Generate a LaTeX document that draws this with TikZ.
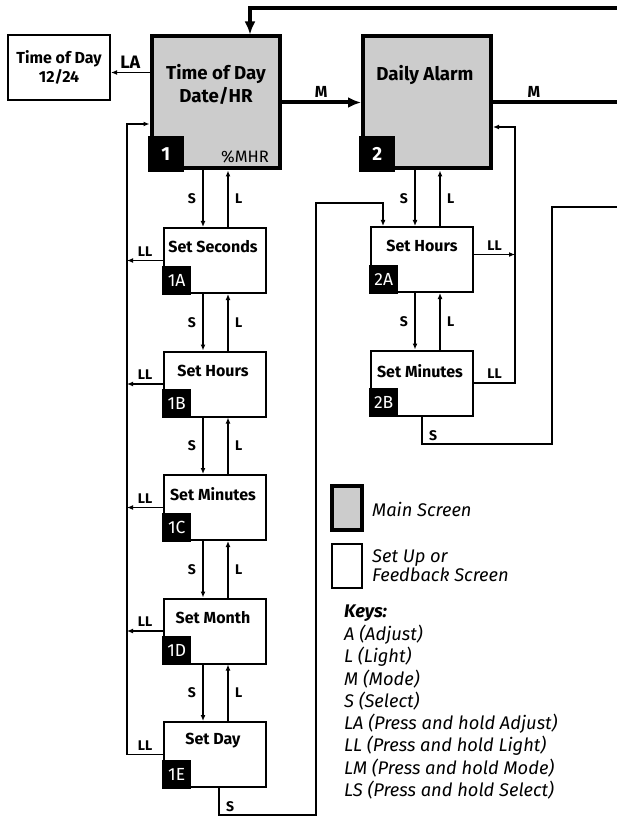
\documentclass[tikz,border=0pt]{standalone}
\usepackage{fontspec}
\setmainfont{Fira Sans}
\usepackage{tikz}
\usetikzlibrary{arrows.meta, positioning, calc}
\definecolor{screengrey}{HTML}{CCCCCC}

\begin{document}
\begin{tikzpicture}[x=1pt, y=-1pt, >=Latex,
  mainscreen/.style={draw, line width=4pt, fill=screengrey, minimum width=128pt, minimum height=132pt, inner sep=0pt},
  setscreen/.style={draw, line width=2pt, fill=white, minimum width=102pt, minimum height=65pt, inner sep=0pt},
  badge/.style={fill=black, text=white, anchor=south west, inner sep=0pt, minimum size=29pt, font=\fontsize{17.5}{17.5}\selectfont},
  mainbadge/.style={badge, minimum size=36pt, font=\fontsize{19}{19}\selectfont\bfseries},
  title/.style={font=\fontsize{16}{19}\selectfont\bfseries, align=center},
  maintitle/.style={font=\fontsize{18.7}{23}\selectfont\bfseries, align=center},
  key/.style={font=\fontsize{14}{14}\selectfont\bfseries},
  bigkey/.style={font=\fontsize{16}{16}\selectfont\bfseries},
  legend/.style={font=\fontsize{18.3}{19.5}\selectfont\itshape, anchor=west, align=left, inner sep=0pt},
  flow/.style={->, line width=1.5pt, >={Latex[length=6pt,width=5pt]}},
  mainflow/.style={->, line width=4pt, >={Latex[length=13pt,width=11pt]}}
]
  \useasboundingbox (0,0) rectangle (617,818);
  % Colonnes des fleches S / L / LL
  \coordinate (colS) at (203,0);
  \coordinate (colL) at (228,0);
  \coordinate (llcol) at (127,0);
  \coordinate (colS2) at (415,0);
  \coordinate (colL2) at (440,0);
  \coordinate (rcol) at (515,0);

  % Ecrans principaux
  \node[mainscreen] (tod) at (215.5,102.5) {};
  \node[maintitle] at ($(tod.north)+(0.5,50)$) {Time of Day\\Date/HR};
  \node[mainbadge] at ([shift={(-2,2)}]tod.south west) {1};
  \node[font=\fontsize{16.5}{16.5}\selectfont] at ($(tod.south east)+(-36.5,-14)$) {\%MHR};
  \node[mainscreen] (alarm) at (427,102.5) {};
  \node[maintitle] at ($(alarm.north)+(-2,40)$) {Daily Alarm};
  \node[mainbadge] at ([shift={(-2,2)}]alarm.south west) {2};
  \node[setscreen, title] (tod24) at (59,67.5) {Time of Day\\12/24};

  % Ecrans de reglage de l'heure
  \foreach \n/\t [count=\i] in {A/Set Seconds, B/Set Hours, C/Set Minutes, D/Set Month, E/Set Day} {
    \node[setscreen] (set\n) at (215,{137+123.5*\i}) {};
    \node[title] at ($(set\n.north)+(-2,20)$) {\t};
    \node[badge] at ([shift={(-1,1)}]set\n.south west) {1\n};
  }
  % Ecrans de reglage de l'alarme
  \node[setscreen] (alarmA) at (422,259.5) {};
  \node[title] at ($(alarmA.north)+(0,20)$) {Set Hours};
  \node[badge] at ([shift={(-1,1)}]alarmA.south west) {2A};
  \node[setscreen] (alarmB) at (422,383) {};
  \node[title] at ($(alarmB.north)+(-2,22)$) {Set Minutes};
  \node[badge] at ([shift={(-1,1)}]alarmB.south west) {2B};

  % Boucle Mode (traits epais)
  \coordinate (topin) at (617,8);
  \coordinate (mout) at (617,102.5);
  \draw[mainflow] (topin) -| ([xshift=34.5pt]tod.north);
  \draw[mainflow] (tod.east) -- (alarm.west) node[midway, above, bigkey] {M};
  \draw[line width=4pt] (alarm.east) -- (mout) node[pos=0.33, above, bigkey] {M};
  \draw[flow] ([yshift=30pt]tod.west) coordinate (la) -- (la -| tod24.east) node[midway, above, bigkey, font=\fontsize{18}{18}\selectfont\bfseries] {LA};

  % S vers le bas, L vers le haut
  \foreach \up/\dn in {tod/setA, setA/setB, setB/setC, setC/setD, setD/setE} {
    \draw[flow] (\up.south -| colS) -- (\dn.north -| colS) node[midway, left=3pt, key] {S};
    \draw[flow] (\dn.north -| colL) -- (\up.south -| colL) node[midway, right=3pt, key] {L};
  }
  \foreach \up/\dn in {alarm/alarmA, alarmA/alarmB} {
    \draw[flow] (\up.south -| colS2) -- (\dn.north -| colS2) node[midway, left=3pt, key] {S};
    \draw[flow] (\dn.north -| colL2) -- (\up.south -| colL2) node[midway, right=3pt, key] {L};
  }

  % LL : retour a l'ecran principal
  \foreach \n in {setA, setB, setC, setD} {
    \draw[flow] (\n.west) -- (\n.west -| llcol) node[midway, above, key] {LL};
  }
  \draw[flow] (setE.west) -- (setE.west -| llcol) node[midway, above, key] {LL} |- ([yshift=-21.5pt]tod.west);
  \draw[flow] ([yshift=5pt]alarmA.east) -- ([yshift=5pt]alarmA.east -| rcol) node[midway, above, key] {LL};
  \draw[flow] (alarmB.east) -- (alarmB.east -| rcol) node[midway, above, key] {LL} |- ([yshift=-24.5pt]alarm.east);

  % S depuis les derniers ecrans
  \coordinate (loopA) at (316,815);
  \coordinate (loopB) at (383,203);
  \draw[flow] ([xshift=4pt]setE.south) |- (loopA) node[pos=0.35, right=3pt, key] {S} |- (loopB) -- (loopB |- alarmA.north);
  \coordinate (sturn) at (552,444);
  \coordinate (sout) at (617,207);
  \draw[line width=1.5pt] (alarmB.south) |- (sturn) node[pos=0.35, right=3pt, key] {S} |- (sout);

  % Legende
  \draw[line width=4pt, fill=screengrey] (332,486) rectangle (362,530);
  \draw[line width=2pt, fill=white] (332,544) rectangle (362,588);
  \node[legend] (lgmain) at (372,509) {Main Screen};
  \node[legend] (lgset) at (372,565.5) {Set Up or\\Feedback Screen};
  \node[legend, font=\fontsize{18.3}{19.5}\selectfont\bfseries\itshape] (keys) at (344,613) {Keys:};
  \foreach \k [count=\i] in {A (Adjust), L (Light), M (Mode), S (Select), LA (Press and hold Adjust), LL (Press and hold Light), LM (Press and hold Mode), LS (Press and hold Select)} {
    \node[legend] (key\i) at (344,{613+22.1*\i}) {\k};
  }
\end{tikzpicture}
\end{document}
